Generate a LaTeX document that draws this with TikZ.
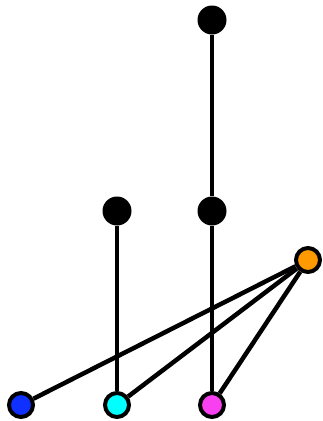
\documentclass[tikz,border=0pt]{standalone}
\begin{document}
\begin{tikzpicture}[x=1pt,y=-1pt,
  blk/.style={circle,fill=black,inner sep=0pt,minimum size=29pt},
  col/.style={circle,draw=black,line width=4pt,inner sep=0pt,minimum size=24pt},
  edge/.style={line width=4.5pt}]
\definecolor{cblue}{HTML}{1030FF}
\definecolor{ccyan}{HTML}{00FFFF}
\definecolor{cmag}{HTML}{F840F0}
\definecolor{corange}{HTML}{FF9900}
\useasboundingbox (0,0) rectangle (323,421);
\node[blk] (t) at (212,20) {};
\node[blk] (mr) at (212,211) {};
\node[blk] (ml) at (117,211) {};
\node[col,fill=corange] (o) at (308,260) {};
\node[col,fill=cblue] (b) at (21,405) {};
\node[col,fill=ccyan] (c) at (117,405) {};
\node[col,fill=cmag] (m) at (212,405) {};
\draw[edge] (t) -- (mr);
\draw[edge] (mr) -- (m);
\draw[edge] (ml) -- (c);
\draw[edge] (o) -- (b);
\draw[edge] (o) -- (c);
\draw[edge] (o) -- (m);
\end{tikzpicture}
\end{document}
